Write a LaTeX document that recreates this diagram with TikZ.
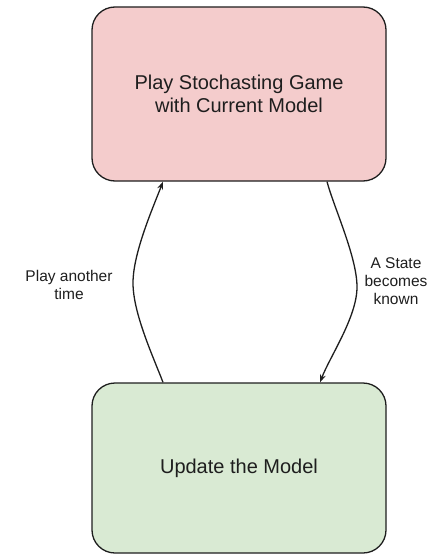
\documentclass[tikz,border=0pt]{standalone}
\usepackage{fontspec}
\setmainfont{Liberation Sans}
\usetikzlibrary{arrows.meta}
\definecolor{stagepink}{HTML}{F4CCCC}
\definecolor{stagegreen}{HTML}{D9EAD3}
\definecolor{ink}{HTML}{1E1E1E}
\begin{document}
\begin{tikzpicture}[x=1pt,y=-1pt,
  stage/.style={draw=ink, line width=1.3pt, rounded corners=23pt,
    minimum width=294pt, align=center, text=ink, inner sep=0pt,
    font=\fontsize{20}{23}\selectfont},
  flow/.style={draw=ink, line width=1.3pt, -{Stealth[length=8pt,width=6pt]}},
  note/.style={align=center, text=ink, inner sep=0pt,
    font=\fontsize{15.5}{18}\selectfont}]
\useasboundingbox (0,0) rectangle (428,556);

% the two stages of the loop
\node[stage, fill=stagepink, minimum height=174pt] (play) at (239,94)
  {Play Stochasting Game\\with Current Model};
\node[stage, fill=stagegreen, minimum height=170pt] (update) at (239,468)
  {Update the Model};

% turning points of the curved connectors
\coordinate (lmid) at (133,283);
\coordinate (rmid) at (357,287);

% back to playing
\draw[flow] ([xshift=-76pt]update.north)
  .. controls +(-10,-26) and +(0,30) .. (lmid)
  .. controls +(0,-30) and +(-10,26) .. ([xshift=-76pt]play.south);

% down to the model update
\draw[flow] ([xshift=88pt]play.south)
  .. controls +(7,26) and +(0,-30) .. (rmid)
  .. controls +(0,30) and +(10,-26) .. ([xshift=81pt]update.north);

% connector labels
\node[note] (lblplay) at (69,285) {Play another\\time};
\node[note] (lblstate) at (396,281) {A State\\becomes\\known};
\end{tikzpicture}
\end{document}
